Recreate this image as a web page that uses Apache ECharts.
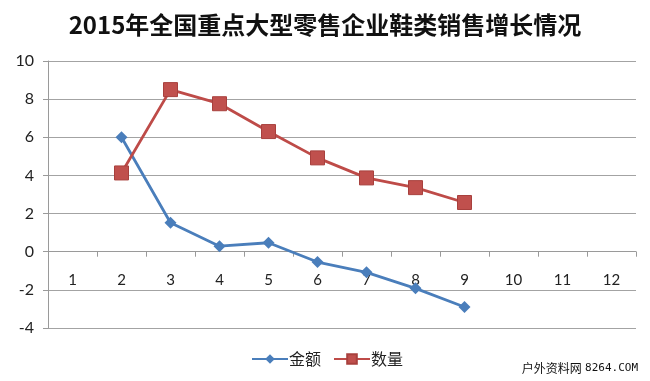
<!DOCTYPE html>
<html><head><meta charset="utf-8">
<script src="https://cdn.jsdelivr.net/npm/echarts@6/dist/echarts.min.js"></script>
<style>html,body{margin:0;padding:0;background:#fff}#c{width:650px;height:381px}</style>
</head><body><div id="c"></div>
<script>
const titleText = '2015年全国重点大型零售企业鞋类销售增长情况';
const categories = ['1','2','3','4','5','6','7','8','9','10','11','12'];
const amountName = '金额';
const amount = [null, 6.0, 1.52, 0.29, 0.47, -0.54, -1.08, -1.92, -2.9, null, null, null];
const qtyName = '数量';
const qty = [null, 4.13, 8.5, 7.76, 6.3, 4.92, 3.87, 3.36, 2.58, null, null, null];
const yTicks = {min: -4, max: 10, interval: 2};
const watermarkCn = '户外资料网';
const watermarkEn = '8264.COM';

const gridTop = 61, gridBottom = 53, H = 381;
const gridH = H - gridTop - gridBottom;
const zeroOffset = -gridH * (0 - yTicks.min) / (yTicks.max - yTicks.min);

const chart = echarts.init(document.getElementById('c'), null, {renderer: 'canvas'});
chart.setOption({
  animation: false,
  backgroundColor: '#fff',
  title: {
    text: titleText, left: 'center', top: 8,
    textStyle: {fontFamily: 'Noto Sans CJK SC', fontWeight: 'bold', fontSize: 24, color: '#111'}
  },
  grid: {left: 48, right: 14, top: gridTop, bottom: gridBottom, containLabel: false},
  legend: {
    bottom: 9, left: 246, itemGap: 12, itemWidth: 36, itemHeight: 12,
    textStyle: {fontFamily: 'Noto Sans CJK SC', fontSize: 16, color: '#222', padding: [0,0,0,-4]},
    data: [amountName, qtyName]
  },
  xAxis: {
    type: 'category', data: categories, boundaryGap: true,
    position: 'bottom', offset: zeroOffset,
    axisLine: {onZero: false, lineStyle: {color: '#9a9a9a', width: 1}},
    axisTick: {show: true, length: 5, lineStyle: {color: '#9a9a9a'}},
    axisLabel: {margin: 21, fontFamily: 'Lato', fontSize: 15, color: '#222'},
    splitLine: {show: false}
  },
  yAxis: {
    type: 'value', min: yTicks.min, max: yTicks.max, interval: yTicks.interval,
    axisLine: {show: true, lineStyle: {color: '#9a9a9a', width: 1}},
    axisTick: {show: true, length: 5, lineStyle: {color: '#9a9a9a'}},
    axisLabel: {margin: 14, fontFamily: 'Lato', fontSize: 16, color: '#222'},
    splitLine: {show: true, lineStyle: {color: '#a3a3a3', width: 1}}
  },
  series: [
    {
      name: amountName, type: 'line', data: amount,
      symbol: 'diamond', symbolSize: 12,
      itemStyle: {color: '#4a7ebb'},
      lineStyle: {color: '#4a7ebb', width: 2.8}
    },
    {
      name: qtyName, type: 'line', data: qty,
      symbol: 'rect', symbolSize: 14,
      itemStyle: {color: '#c0504d', borderColor: '#a8403d', borderWidth: 1},
      lineStyle: {color: '#be4b48', width: 2.8}
    }
  ],
  graphic: [{
    type: 'text', right: 12, top: 362,
    style: {
      text: '{a|' + watermarkCn + '} {b|' + watermarkEn + '}',
      rich: {
        a: {fontFamily: 'Noto Sans CJK SC', fontSize: 12, fill: '#111', color: '#111'},
        b: {fontFamily: 'DejaVu Sans Mono', fontSize: 11, fill: '#111', color: '#111'}
      }
    }
  }]
});
</script></body></html>
